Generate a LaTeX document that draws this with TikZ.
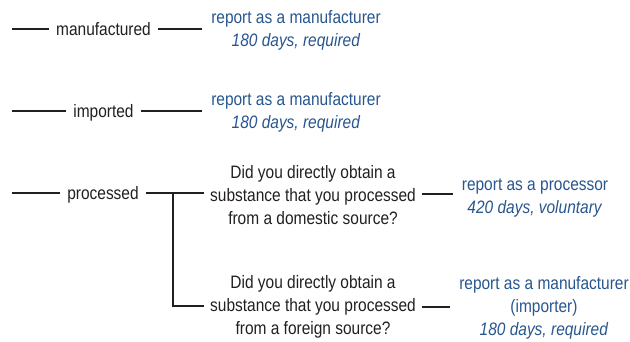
\documentclass[tikz,border=0pt]{standalone}
\usepackage{fontspec}
\setmainfont{Liberation Sans}[FakeStretch=0.86]
\definecolor{repblue}{RGB}{40,86,142}
\definecolor{ink}{RGB}{35,31,32}

\begin{document}
\begin{tikzpicture}[x=1pt, y=-1pt, every node/.style={font=\fontsize{18}{23}\selectfont, text=ink, inner sep=0pt},
	lbl/.style={text height=13pt, text depth=0pt, outer xsep=7pt},
	quest/.style={align=center, outer xsep=6pt},
	rep/.style={align=center, text=repblue, outer xsep=9pt},
	conn/.style={draw=ink, line width=1.4pt}]
	\useasboundingbox (0,0) rectangle (630,342);
	% first level
	\coordinate (s1) at (12,29);
	\coordinate (s2) at (12,111);
	\coordinate (s3) at (12,193);
	\node[lbl] (man) at (103.5,29) {manufactured};
	\node[lbl] (imp) at (103.5,111) {imported};
	\node[lbl] (proc) at (103,193) {processed};
	% outcomes
	\node[rep] (r1) at (296,30.5) {report as a manufacturer\\\textit{180 days, required}};
	\node[rep] (r2) at (296,112.5) {report as a manufacturer\\\textit{180 days, required}};
	% questions
	\node[quest] (q1) at (313,195.5) {Did you directly obtain a\\substance that you processed\\from a domestic source?};
	\node[quest] (q2) at (313,306.5) {Did you directly obtain a\\substance that you processed\\from a foreign source?};
	\node[rep] (r3) at (535,198) {report as a processor\\\textit{420 days, voluntary}};
	\node[rep] (r4) at (544,308) {report as a manufacturer\\(importer)\\\textit{180 days, required}};
	\coordinate (br) at (173,193);
	\draw[conn] (s1) -- (man);
	\draw[conn] (man) -- (r1.west |- man);
	\draw[conn] (s2) -- (imp);
	\draw[conn] (imp) -- (r2.west |- imp);
	\draw[conn] (s3) -- (proc);
	\draw[conn] (proc) -- (q1.west |- proc);
	\draw[conn] (br) |- (q2.west |- 0,306);
	\draw[conn] (q1.east |- 0,194) -- (r3.west |- 0,194);
	\draw[conn] (q2.east |- 0,307) -- (r4.west |- 0,307);
\end{tikzpicture}
\end{document}
